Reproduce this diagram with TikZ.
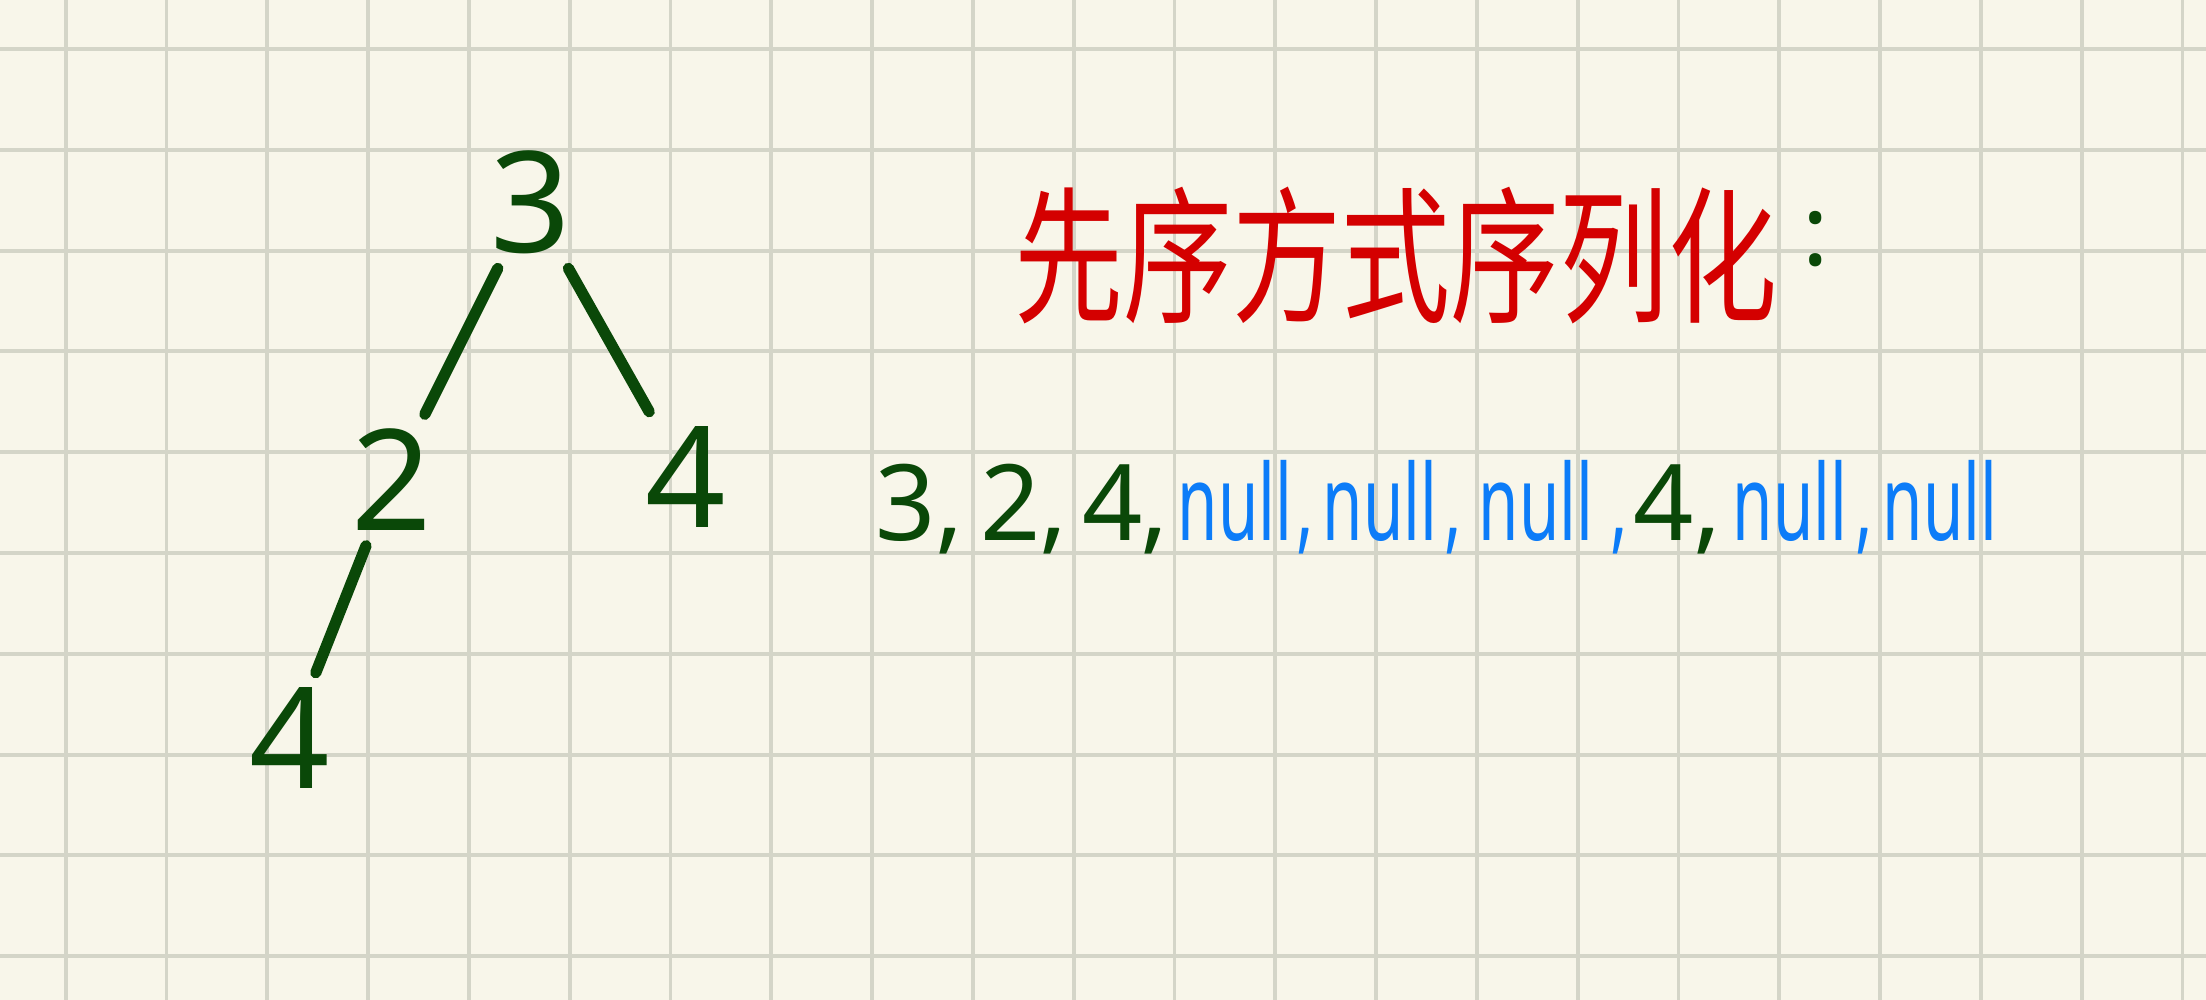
\documentclass[tikz,border=0pt]{standalone}
\usepackage{graphicx}
\usepackage{fontspec}
\setmainfont{Noto Sans}
\newfontfamily\cjkfont{Noto Sans CJK SC}
\newfontfamily\narrowfont[FakeStretch=0.62]{Noto Sans}
\usetikzlibrary{positioning}

\definecolor{paperBg}{RGB}{248,246,234}
\definecolor{gridGray}{RGB}{212,213,200}
\definecolor{inkGreen}{RGB}{10,72,8}
\definecolor{inkRed}{RGB}{212,0,0}
\definecolor{inkBlue}{RGB}{12,124,248}

\begin{document}
\begin{tikzpicture}[
        x=0.01cm, y=-0.01cm,
        gridLine/.style={gridGray, line width=1.1pt},
        treeNum/.style={inkGreen, inner sep=4pt, font=\fontsize{40}{48}\selectfont},
        treeEdge/.style={inkGreen, line width=3.2pt, line cap=round},
        seqItem/.style={anchor=base, inner sep=0pt},
        seqNum/.style={inkGreen, font=\fontsize{30}{36}\selectfont},
        seqNull/.style={inkBlue, font=\narrowfont\fontsize{30}{36}\selectfont},
        titleText/.style={inkRed, font=\cjkfont\fontsize{31}{36}\selectfont}
    ]
        % Paper and its square grid
        \fill[paperBg] (0,0) rectangle (2206,1000);
        \useasboundingbox (0,0) rectangle (2206,1000);
        \foreach \k in {0,...,21}
            \draw[gridLine] (65.7+100.8*\k,0) -- (65.7+100.8*\k,1000);
        \foreach \k in {0,...,9}
            \draw[gridLine] (0,49+100.8*\k) -- (2206,49+100.8*\k);

        % The tree
        \node[treeNum] (nRoot) at (531,202) {3};
        \node[treeNum] (nLeft) at (392,480) {2};
        \node[treeNum] (nRight) at (686,477) {4};
        \node[treeNum] (nLeftLeft) at (290,738) {4};

        \draw[treeEdge] (nRoot) -- (nLeft);
        \draw[treeEdge] (nRoot) -- (nRight);
        \draw[treeEdge] (nLeft) -- (nLeftLeft);

        % Heading, stretched upwards like the handwriting
        \node[titleText] (title) at (1396,255) {\scalebox{1}[1.35]{先序方式序列化}};
        \node[inkGreen, font=\fontsize{28}{34}\selectfont, right=0pt of title, yshift=0.16cm] (colon) {:};

        % Serialised sequence
        \foreach \px/\txt/\sty [count=\i] in {
                906/3/seqNum, 950/{,}/seqNum, 1011/2/seqNum, 1054/{,}/seqNum,
                1113/4/seqNum, 1155/{,}/seqNum, 1235/null/seqNull, 1305/{,}/seqNull,
                1380/null/seqNull, 1453/{,}/seqNull, 1536/null/seqNull, 1619/{,}/seqNull,
                1664/4/seqNum, 1708/{,}/seqNum, 1790/null/seqNull, 1864/{,}/seqNull,
                1940/null/seqNull}
            \node[seqItem, \sty] (s\i) at (\px,540) {\txt};

    \end{tikzpicture}
\end{document}
